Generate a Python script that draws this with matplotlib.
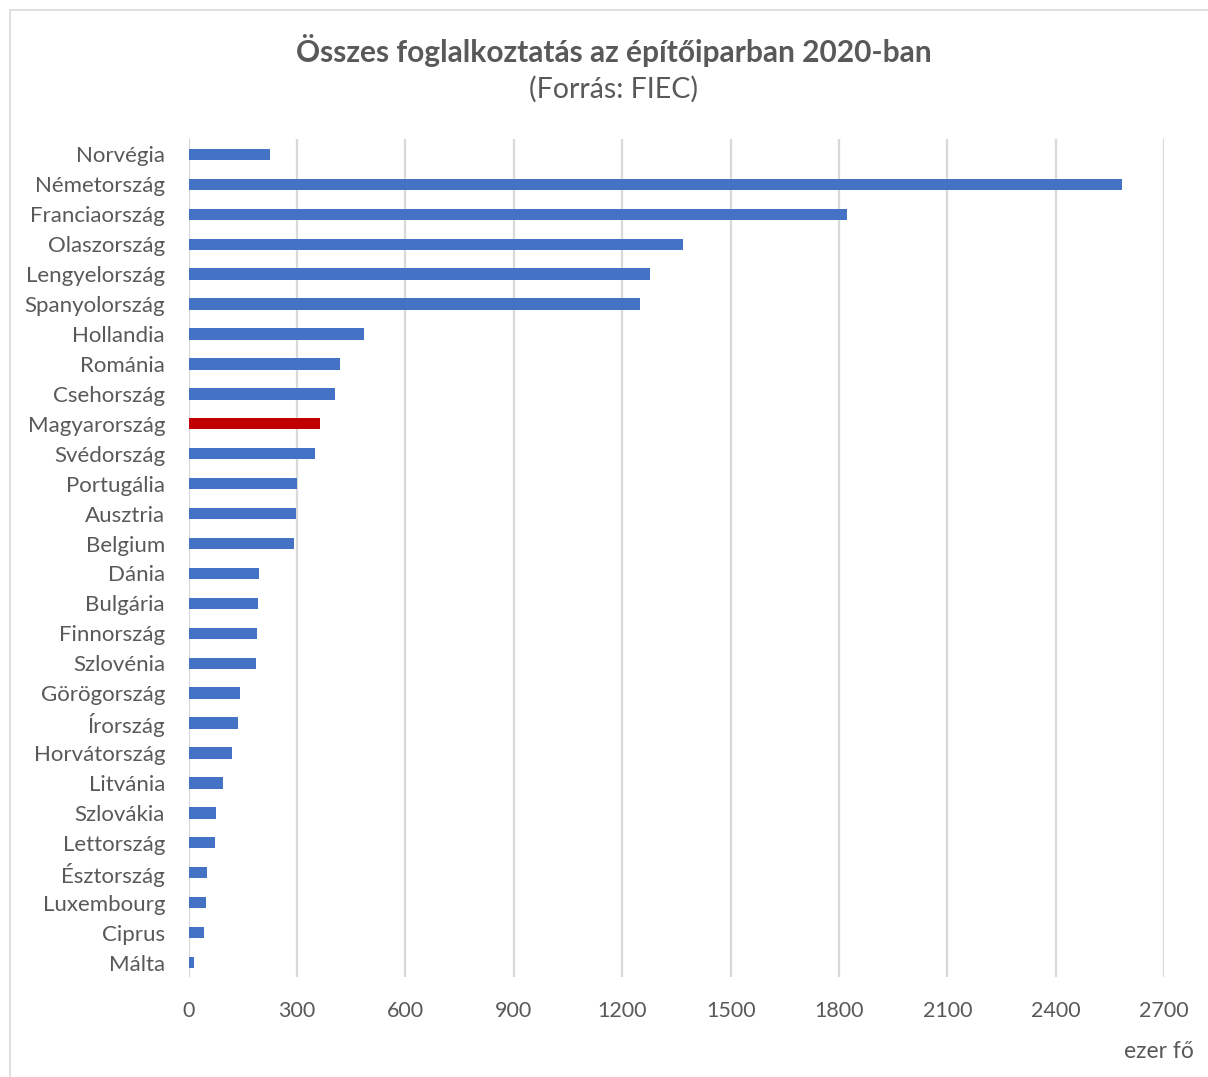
import matplotlib.pyplot as plt
from matplotlib.patches import Rectangle

# Countries (top to bottom) and employment in thousand persons
countries = ['Norvégia', 'Németország', 'Franciaország', 'Olaszország', 'Lengyelország',
             'Spanyolország', 'Hollandia', 'Románia', 'Csehország', 'Magyarország',
             'Svédország', 'Portugália', 'Ausztria', 'Belgium', 'Dánia', 'Bulgária',
             'Finnország', 'Szlovénia', 'Görögország', 'Írország', 'Horvátország',
             'Litvánia', 'Szlovákia', 'Lettország', 'Észtország', 'Luxembourg',
             'Ciprus', 'Málta']
values = [226, 2582, 1822, 1367, 1276, 1248, 486, 420, 406, 363, 349, 300, 298, 291,
          195, 193, 190, 187, 142, 137, 119, 94, 76, 72, 50, 49, 41, 16]
highlight = 'Magyarország'
xticks = [0, 300, 600, 900, 1200, 1500, 1800, 2100, 2400, 2700]

plt.rcParams['font.family'] = ['Lato', 'DejaVu Sans']
textColor = '#595959'

fig = plt.figure(figsize=(12.08, 10.77), dpi=100)
ax = fig.add_axes([0.1562, 0.0924, 0.8075, 0.7781])

positions = list(range(len(countries)))
colors = ['#C00000' if c == highlight else '#4472C4' for c in countries]
ax.barh(positions, values, height=0.38, color=colors, zorder=3)

ax.set_ylim(len(countries) - 0.5, -0.5)
ax.set_xlim(0, 2700)
ax.set_yticks(positions)
ax.set_yticklabels(countries, fontsize=16, color=textColor)
ax.set_xticks(xticks)
ax.set_xticklabels([str(t) for t in xticks], fontsize=15.5, color=textColor)
ax.tick_params(axis='y', length=0, pad=17)
ax.tick_params(axis='x', length=0, pad=17)

#Gridlines
ax.grid(axis='x', color='#D9D9D9', linewidth=1.6, zorder=0)
for side in ax.spines:
    ax.spines[side].set_visible(False)

#Titles
fig.text(0.508, 0.953, 'Összes foglalkoztatás az építőiparban 2020-ban',
         ha='center', va='center', fontsize=21.5, fontweight='bold', color=textColor)
fig.text(0.508, 0.917, '(Forrás: FIEC)', ha='center', va='center',
         fontsize=20.5, color=textColor)
fig.text(0.988, 0.024, 'ezer fő', ha='right', va='center', fontsize=16.5, color=textColor)

#Chart border
fig.patches.append(Rectangle((10 / 1208, -0.01), 1.02, 1 - 10 / 1077 + 0.01,
                             transform=fig.transFigure, fill=False,
                             edgecolor='#D9D9D9', linewidth=1.2))

fig.savefig('out.png', dpi=100)
